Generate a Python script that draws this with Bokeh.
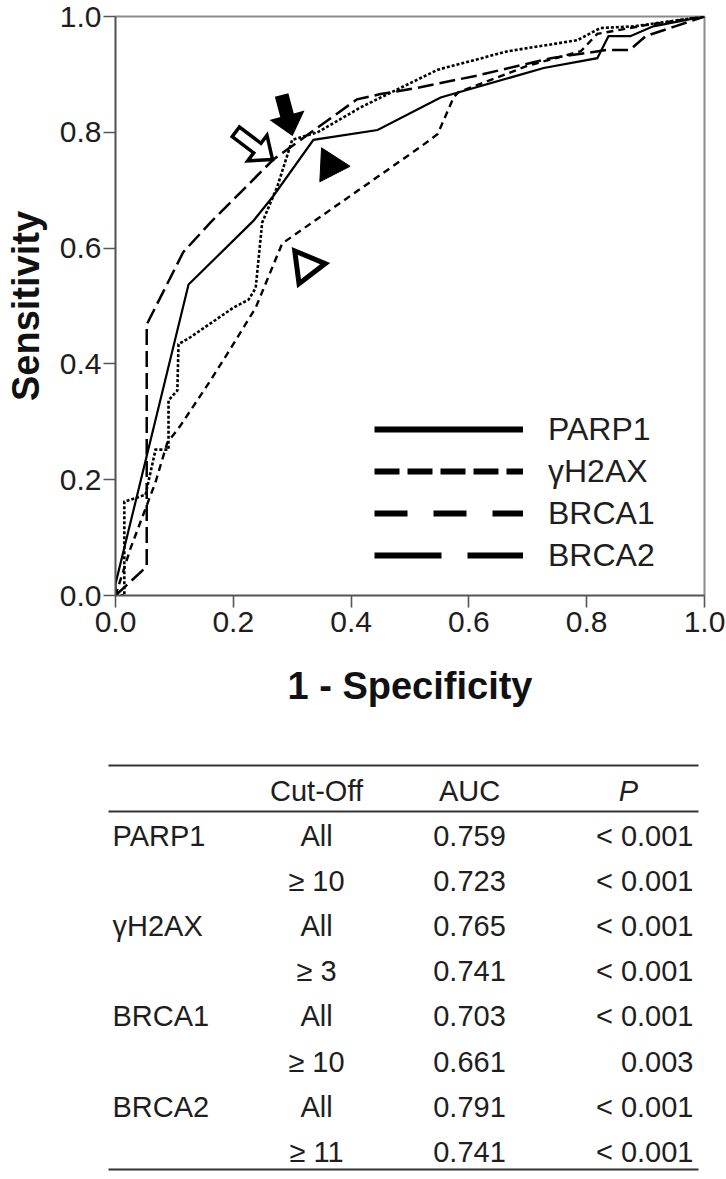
import math
from bokeh.plotting import figure
from bokeh.models import Range1d, FixedTicker, Legend, LegendItem, Label, Arrow
from bokeh.layouts import column
from bokeh.embed import file_html
from bokeh.resources import INLINE

# ---------------- data ----------------
series_names = ["PARP1", "γH2AX", "BRCA1", "BRCA2"]

parp1_x = [0.0, 0.0, 0.124, 0.234, 0.268, 0.336, 0.445, 0.552, 0.727, 0.818, 0.837, 0.874, 0.913, 1.0]
parp1_y = [0.0, 0.02, 0.537, 0.647, 0.690, 0.787, 0.804, 0.860, 0.911, 0.928, 0.966, 0.966, 0.983, 1.0]

gh2ax_x = [0.0, 0.015, 0.015, 0.051, 0.068, 0.090, 0.090, 0.105, 0.107, 0.127, 0.200, 0.226, 0.238,
           0.249, 0.275, 0.300, 0.343, 0.416, 0.547, 0.666, 0.784, 0.823, 0.880, 1.0]
gh2ax_y = [0.0, 0.0, 0.162, 0.174, 0.252, 0.252, 0.337, 0.354, 0.434, 0.446, 0.497, 0.511, 0.531,
           0.644, 0.707, 0.787, 0.800, 0.843, 0.908, 0.940, 0.959, 0.980, 0.983, 1.0]

brca1_x = [0.0, 0.025, 0.068, 0.088, 0.110, 0.161, 0.200, 0.238, 0.283, 0.518, 0.547, 0.574, 0.582,
           0.700, 0.790, 0.818, 0.900, 1.0]
brca1_y = [0.0, 0.080, 0.196, 0.264, 0.293, 0.371, 0.434, 0.497, 0.608, 0.775, 0.797, 0.860, 0.869,
           0.915, 0.940, 0.970, 0.985, 1.0]

brca2_x = [0.0, 0.053, 0.053, 0.115, 0.161, 0.268, 0.410, 0.450, 0.513, 0.614, 0.739, 0.833, 0.873,
           0.900, 0.950, 1.0]
brca2_y = [0.0, 0.050, 0.468, 0.593, 0.644, 0.753, 0.857, 0.866, 0.877, 0.898, 0.928, 0.942, 0.942,
           0.966, 0.983, 1.0]

x_ticks = [0.0, 0.2, 0.4, 0.6, 0.8, 1.0]
x_tick_labels = ["0.0", "0.2", "0.4", "0.6", "0.8", "1.0"]
y_ticks = [0.0, 0.2, 0.4, 0.6, 0.8, 1.0]
y_tick_labels = ["0.0", "0.2", "0.4", "0.6", "0.8", "1.0"]

# table
table_header = ["", "Cut-Off", "AUC", "P"]
table_marker = ["PARP1", "", "γH2AX", "", "BRCA1", "", "BRCA2", ""]
table_cutoff = ["All", "≥ 10", "All", "≥ 3", "All", "≥ 10", "All", "≥ 11"]
table_auc = ["0.759", "0.723", "0.765", "0.741", "0.703", "0.661", "0.791", "0.741"]
table_p = ["< 0.001", "< 0.001", "< 0.001", "< 0.001", "< 0.001", "0.003", "< 0.001", "< 0.001"]

# annotation markers (data coords of anchors)
tri_x = [0.365, 0.324]
tri_y = [0.743, 0.569]
tri_fill = ["black", "white"]

arrow_tips = [(0.300, 0.796), (0.2666, 0.753)]
arrow_angles = [75, 37]          # screen degrees, clockwise from +x
arrow_fill = ["black", "white"]

# legend proxy glyphs sit outside the visible ranges (they only feed the legend)
proxy_x = [-2.0, -1.0]
proxy_y = [-2.0, -1.0]

# ---------------- styles ----------------
FONT = "Liberation Sans"
TXT = "#1e1e1e"
BORDER_L, BORDER_R, BORDER_T = 115, 22, 16
FRAME_W, FRAME_H = 589, 579
FIG_W, FIG_H = BORDER_L + FRAME_W + BORDER_R, 740
curve_styles = {
    "PARP1": dict(line_dash="solid", line_width=2.2),
    "γH2AX": dict(line_dash="3 2", line_width=2.6),
    "BRCA1": dict(line_dash="7 5", line_width=2.4),
    "BRCA2": dict(line_dash="16 6", line_width=2.5),
}
legend_styles = {
    "PARP1": "solid",
    "γH2AX": "25 8",
    "BRCA1": "33 26",
    "BRCA2": "67 26",
}

p = figure(width=FIG_W, height=FIG_H, x_range=Range1d(0, 1), y_range=Range1d(0, 1),
           output_backend="svg", toolbar_location=None,
           min_border_left=BORDER_L, min_border_right=BORDER_R, min_border_top=BORDER_T,
           min_border_bottom=FIG_H - BORDER_T - FRAME_H)
p.frame_width = FRAME_W
p.frame_height = FRAME_H
p.frame_align = False
p.grid.visible = False
p.background_fill_color = "white"
p.border_fill_color = "white"
p.outline_line_color = "#8a8a8a"
p.outline_line_width = 2

for ax in (p.xaxis, p.yaxis):
    ax.major_tick_out = 12
    ax.major_tick_in = 0
    ax.minor_tick_out = 0
    ax.minor_tick_in = 0
    ax.axis_line_color = "#555555"
    ax.axis_line_width = 1.6
    ax.major_tick_line_color = "#555555"
    ax.major_tick_line_width = 1.6
    ax.major_label_text_font = FONT
    ax.major_label_text_font_size = "30px"
    ax.major_label_text_color = TXT
    ax.axis_label_text_font = FONT
    ax.axis_label_text_font_size = "38px"
    ax.axis_label_text_font_style = "bold"
    ax.axis_label_text_color = "#111111"

p.xaxis.ticker = FixedTicker(ticks=x_ticks)
p.yaxis.ticker = FixedTicker(ticks=y_ticks)
p.xaxis.major_label_overrides = {t: l for t, l in zip(x_ticks, x_tick_labels)}
p.yaxis.major_label_overrides = {t: l for t, l in zip(y_ticks, y_tick_labels)}
p.xaxis.axis_label = "1 - Specificity"
p.yaxis.axis_label = "Sensitivity"
p.xaxis.major_label_standoff = 4
p.yaxis.major_label_standoff = 2
p.xaxis.axis_label_standoff = 30
p.yaxis.axis_label_standoff = 10

curves = {
    "PARP1": (parp1_x, parp1_y),
    "γH2AX": (gh2ax_x, gh2ax_y),
    "BRCA1": (brca1_x, brca1_y),
    "BRCA2": (brca2_x, brca2_y),
}
for name in series_names:
    xs, ys = curves[name]
    p.line(xs, ys, color="black", line_join="miter", **curve_styles[name])

# legend with its own proxy renderers (thick strokes as in the key)
items = []
for name in series_names:
    r = p.line(proxy_x, proxy_y, color="black", line_width=6, line_dash=legend_styles[name])
    items.append(LegendItem(label=name, renderers=[r]))
legend = Legend(items=items, location=(259, 19), glyph_width=149, glyph_height=42,
                label_height=42, spacing=0, padding=0, margin=0, label_standoff=25,
                border_line_color=None, background_fill_alpha=0,
                label_text_font=FONT, label_text_font_size="32px", label_text_color=TXT)
p.add_layout(legend)


def block_arrow(tip, angle_deg, length=40, head_len=18, head_w=31, shaft_w=12):
    a = math.radians(angle_deg)
    dx, dy = math.cos(a), math.sin(a)
    nx, ny = -dy, dx
    local = [(0, 0), (-head_len, head_w / 2), (-head_len, shaft_w / 2), (-length, shaft_w / 2),
             (-length, -shaft_w / 2), (-head_len, -shaft_w / 2), (-head_len, -head_w / 2)]
    xs, ys = [], []
    for u, v in local:
        sx = u * dx + v * nx
        sy = u * dy + v * ny
        xs.append(tip[0] + sx / FRAME_W)
        ys.append(tip[1] - sy / FRAME_H)
    return xs, ys


ax_, ay_ = block_arrow(arrow_tips[0], arrow_angles[0], length=40, head_len=19, head_w=32, shaft_w=12)
p.patch(ax_, ay_, fill_color=arrow_fill[0], line_color="black", line_width=2, line_join="miter")
bx_, by_ = block_arrow(arrow_tips[1], arrow_angles[1], length=46, head_len=19, head_w=32, shaft_w=12)
p.patch(bx_, by_, fill_color=arrow_fill[1], line_color="black", line_width=3.5, line_join="miter")

p.scatter(x=[tri_x[0]], y=[tri_y[0]], marker="triangle", size=34, angle=-math.pi / 2 - 0.05,
          fill_color=tri_fill[0], line_color="black", line_width=1)
p.scatter(x=[tri_x[1]], y=[tri_y[1]], marker="triangle", size=33, angle=-math.pi / 2 + 0.13,
          fill_color=tri_fill[1], line_color="black", line_width=5, line_join="miter")

# ---------------- table ----------------
# Full-width frame (no frame alignment with the chart): data x = page x, data y = page y.
T_TOP, T_BOT = FIG_H, 1171
t = figure(width=FIG_W, height=T_BOT - T_TOP,
           x_range=Range1d(0, FIG_W), y_range=Range1d(T_BOT, T_TOP),
           output_backend="svg", toolbar_location=None,
           x_axis_location=None, y_axis_location=None,
           min_border_left=0, min_border_right=0, min_border_top=0, min_border_bottom=0)
t.frame_width = FIG_W
t.frame_height = T_BOT - T_TOP
t.frame_align = False
t.grid.visible = False
t.outline_line_color = None
t.background_fill_alpha = 0

rule_y = [765, 811, 1169]
for ry in rule_y:
    t.add_layout(Arrow(end=None, x_start=108, x_end=698, y_start=ry, y_end=ry,
                       line_color="#333333", line_width=2))

col_x = [112, 316, 469, 693]
head_y = 790
row_y0, row_dy = 835, 45.2
rows_y = [row_y0 + i * row_dy for i in range(len(table_cutoff))]
FS = "29px"


def cell(x, y, txt, align, style="normal"):
    if txt:
        t.add_layout(Label(x=x, y=y, text=txt, text_align=align, text_baseline="middle",
                           text_font=FONT, text_font_size=FS, text_color=TXT,
                           text_font_style=style))


cell(col_x[1], head_y, table_header[1], "center")
cell(col_x[2], head_y, table_header[2], "center")
cell(628, head_y, table_header[3], "center", "italic")
for i, ry in enumerate(rows_y):
    cell(col_x[0], ry, table_marker[i], "left")
    cell(col_x[1], ry, table_cutoff[i], "center")
    cell(col_x[2], ry, table_auc[i], "center")
    cell(col_x[3], ry, table_p[i], "right")

layout = column(p, t)
open("out.html", "w").write(file_html(layout, INLINE))
